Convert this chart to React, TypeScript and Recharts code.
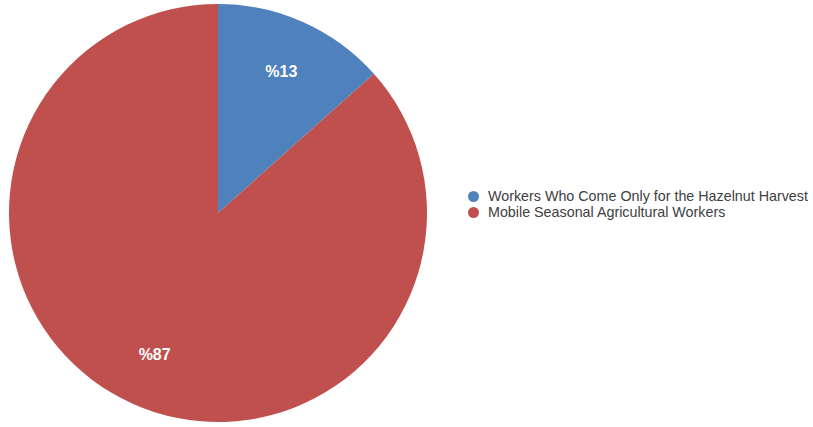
import { PieChart, Pie, Cell, Legend } from 'recharts'

const categories = ['Workers Who Come Only for the Hazelnut Harvest', 'Mobile Seasonal Agricultural Workers']
const shares = [13.4, 86.6]
const labels = ['%13', '%87']
const colors = ['#4F81BD', '#C0504D']

const data = categories.map((name, i) => ({ name, value: shares[i], label: labels[i] }))

const RADIAN = Math.PI / 180

const renderLabel = ({ cx, cy, midAngle, index }: any) => {
  const r = 155
  const x = cx + r * Math.cos(-midAngle * RADIAN)
  const y = cy + r * Math.sin(-midAngle * RADIAN)
  return (
    <text
      x={x}
      y={y}
      fill="#ffffff"
      textAnchor="middle"
      dominantBaseline="central"
      style={{ fontFamily: '"Liberation Sans", Arial, sans-serif', fontSize: 16, fontWeight: 'bold' }}
    >
      {data[index].label}
    </text>
  )
}

const LegendContent = () => (
  <div style={{ fontFamily: '"Liberation Sans", Arial, sans-serif', fontSize: 14.3, color: '#404040' }}>
    {data.map((d, i) => (
      <div key={i} style={{ display: 'flex', alignItems: 'center', height: 16 }}>
        <span
          style={{
            display: 'inline-block',
            width: 11,
            height: 11,
            borderRadius: '50%',
            background: colors[i],
            marginRight: 9,
          }}
        />
        <span>{d.name}</span>
      </div>
    ))}
  </div>
)

export default function App() {
  return (
    <div style={{ position: 'absolute', left: 0, top: 0, width: 813, height: 427, background: '#fff' }}>
      <PieChart width={813} height={427} margin={{ top: 0, right: 0, bottom: 0, left: 0 }}>
        <Pie
          data={data}
          dataKey="value"
          nameKey="name"
          cx={218}
          cy={213}
          outerRadius={209}
          startAngle={90}
          endAngle={-270}
          stroke="none"
          labelLine={false}
          label={renderLabel}
          isAnimationActive={false}
        >
          {data.map((d, i) => (
            <Cell key={d.name} fill={colors[i]} />
          ))}
        </Pie>
        <Legend
          layout="vertical"
          content={<LegendContent />}
          wrapperStyle={{ position: 'absolute', left: 468, top: 188, width: 345 }}
        />
      </PieChart>
    </div>
  )
}
